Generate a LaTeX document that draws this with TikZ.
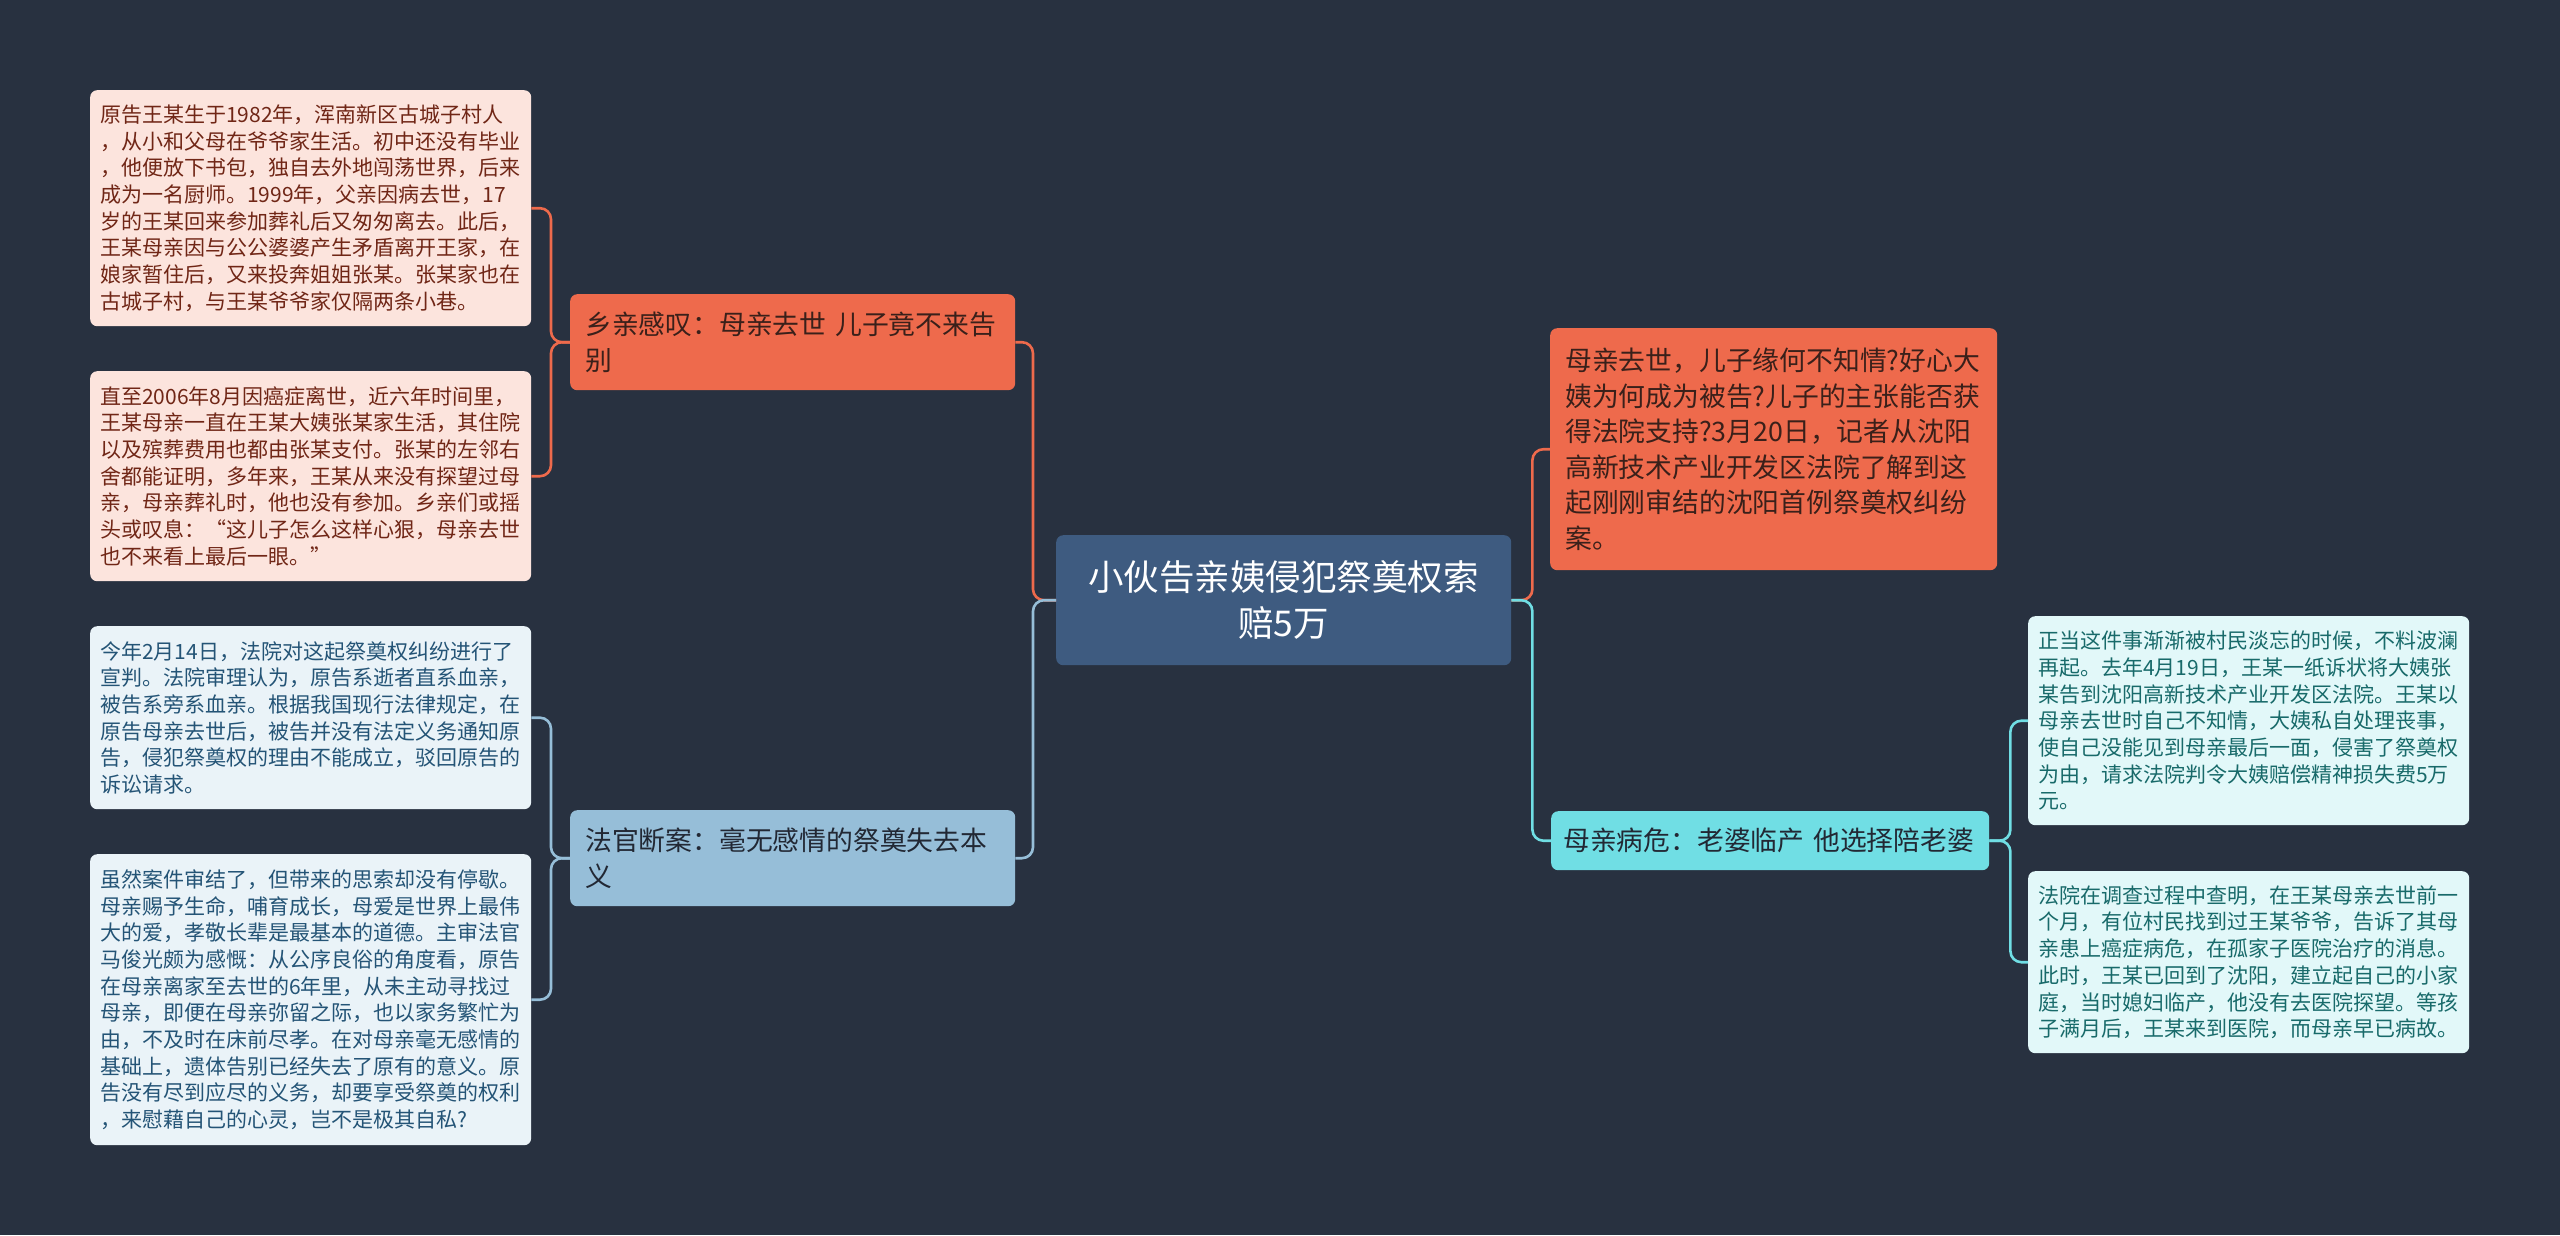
\documentclass[tikz,border=0pt]{standalone}
\usepackage{fontspec}
\setmainfont{Noto Sans CJK SC}
\definecolor{bg}{RGB}{40,49,64}
\definecolor{ctrfill}{RGB}{62,91,128}
\definecolor{coral}{RGB}{238,106,76}
\definecolor{lblue}{RGB}{150,190,216}
\definecolor{cyanb}{RGB}{112,222,228}
\definecolor{pinkleaf}{RGB}{252,228,221}
\definecolor{pinktext}{RGB}{112,38,22}
\definecolor{blueleaf}{RGB}{234,243,248}
\definecolor{bluetext}{RGB}{36,84,118}
\definecolor{cyanleaf}{RGB}{226,248,249}
\definecolor{cyantext}{RGB}{24,106,106}
\definecolor{darktext}{RGB}{58,32,26}
\definecolor{navytext}{RGB}{34,40,52}
\begin{document}
\begin{tikzpicture}[x=1pt,y=-1pt,
  box/.style={rounded corners=7pt, anchor=north west, inner ysep=0pt, align=left},
  leafbox/.style={box, font=\fontsize{21}{26.7}\selectfont, inner xsep=10pt, text width=421pt},
  leafpink/.style={leafbox, fill=pinkleaf, text=pinktext},
  leafblue/.style={leafbox, fill=blueleaf, text=bluetext},
  leafcyan/.style={leafbox, fill=cyanleaf, text=cyantext},
  branchbox/.style={box, font=\fontsize{26.8}{35.5}\selectfont, inner xsep=15pt},
  centerbox/.style={box, fill=ctrfill, text=white, align=center, inner xsep=0pt,
    text width=455pt, minimum height=130pt, font=\fontsize{35.5}{46}\selectfont},
  conn/.style={line width=2.6pt, rounded corners=11pt}
]
\fill[bg] (0,0) rectangle (2560,1235);
\useasboundingbox (0,0) rectangle (2560,1235);

% center
\node[centerbox] (c) at (1056,535) {小伙告亲姨侵犯祭奠权索\\赔5万};

% left branches
\node[branchbox, fill=coral, text=darktext, text width=415pt, minimum height=96pt] (b1) at (570,294)
  {乡亲感叹：母亲去世 儿子竟不来告\\别};
\node[branchbox, fill=lblue, text=navytext, text width=415pt, minimum height=96pt] (b2) at (570,810)
  {法官断案：毫无感情的祭奠失去本\\义};

% right branches
\node[branchbox, fill=coral, text=darktext, text width=417pt, minimum height=242pt] (r1) at (1550,328)
  {母亲去世，儿子缘何不知情?好心大\\姨为何成为被告?儿子的主张能否获\\得法院支持?3月20日，记者从沈阳\\高新技术产业开发区法院了解到这\\起刚刚审结的沈阳首例祭奠权纠纷\\案。};
\node[branchbox, fill=cyanb, text=navytext, inner xsep=12pt, text width=414pt, minimum height=59pt] (r2) at (1551,811)
  {\mbox{母亲病危：老婆临产 他选择陪老婆}};

% left leaves
\node[leafpink, minimum height=236pt] (l1) at (90,90)
  {原告王某生于1982年，浑南新区古城子村人\\，从小和父母在爷爷家生活。初中还没有毕业\\，他便放下书包，独自去外地闯荡世界，后来\\成为一名厨师。1999年，父亲因病去世，17\\岁的王某回来参加葬礼后又匆匆离去。此后，\\王某母亲因与公公婆婆产生矛盾离开王家，在\\娘家暂住后，又来投奔姐姐张某。张某家也在\\古城子村，与王某爷爷家仅隔两条小巷。};
\node[leafpink, minimum height=210pt] (l2) at (90,371)
  {直至2006年8月因癌症离世，近六年时间里，\\王某母亲一直在王某大姨张某家生活，其住院\\以及殡葬费用也都由张某支付。张某的左邻右\\舍都能证明，多年来，王某从来没有探望过母\\亲，母亲葬礼时，他也没有参加。乡亲们或摇\\头或叹息：“这儿子怎么这样心狠，母亲去世\\也不来看上最后一眼。”};
\node[leafblue, minimum height=183pt] (l3) at (90,626)
  {今年2月14日，法院对这起祭奠权纠纷进行了\\宣判。法院审理认为，原告系逝者直系血亲，\\被告系旁系血亲。根据我国现行法律规定，在\\原告母亲去世后，被告并没有法定义务通知原\\告，侵犯祭奠权的理由不能成立，驳回原告的\\诉讼请求。};
\node[leafblue, minimum height=291pt] (l4) at (90,854)
  {虽然案件审结了，但带来的思索却没有停歇。\\母亲赐予生命，哺育成长，母爱是世界上最伟\\大的爱，孝敬长辈是最基本的道德。主审法官\\马俊光颇为感慨：从公序良俗的角度看，原告\\在母亲离家至去世的6年里，从未主动寻找过\\母亲，即便在母亲弥留之际，也以家务繁忙为\\由，不及时在床前尽孝。在对母亲毫无感情的\\基础上，遗体告别已经失去了原有的意义。原\\告没有尽到应尽的义务，却要享受祭奠的权利\\，来慰藉自己的心灵，岂不是极其自私?};

% right leaves
\node[leafcyan, minimum height=209pt] (q1) at (2028,616)
  {正当这件事渐渐被村民淡忘的时候，不料波澜\\再起。去年4月19日，王某一纸诉状将大姨张\\某告到沈阳高新技术产业开发区法院。王某以\\母亲去世时自己不知情，大姨私自处理丧事，\\使自己没能见到母亲最后一面，侵害了祭奠权\\为由，请求法院判令大姨赔偿精神损失费5万\\元。};
\node[leafcyan, minimum height=182pt] (q2) at (2028,871)
  {法院在调查过程中查明，在王某母亲去世前一\\个月，有位村民找到过王某爷爷，告诉了其母\\亲患上癌症病危，在孤家子医院治疗的消息。\\此时，王某已回到了沈阳，建立起自己的小家\\庭，当时媳妇临产，他没有去医院探望。等孩\\子满月后，王某来到医院，而母亲早已病故。};

% connectors center -> branches
\draw[conn, coral] (c.west) -- ++(-23,0) |- (b1.east);
\draw[conn, lblue] (c.west) -- ++(-23,0) |- (b2.east);
\draw[conn, coral] (c.east) -- ++(21,0) |- (r1.west);
\draw[conn, cyanb] (c.east) -- ++(21,0) |- (r2.west);

% branches -> leaves
\draw[conn, coral] (b1.west) -- ++(-19,0) |- (l1.east);
\draw[conn, coral] (b1.west) -- ++(-19,0) |- (l2.east);
\draw[conn, lblue] (b2.west) -- ++(-19,0) |- (l3.east);
\draw[conn, lblue] (b2.west) -- ++(-19,0) |- (l4.east);
\draw[conn, cyanb] (r2.east) -- ++(21,0) |- (q1.west);
\draw[conn, cyanb] (r2.east) -- ++(21,0) |- (q2.west);
\end{tikzpicture}
\end{document}
